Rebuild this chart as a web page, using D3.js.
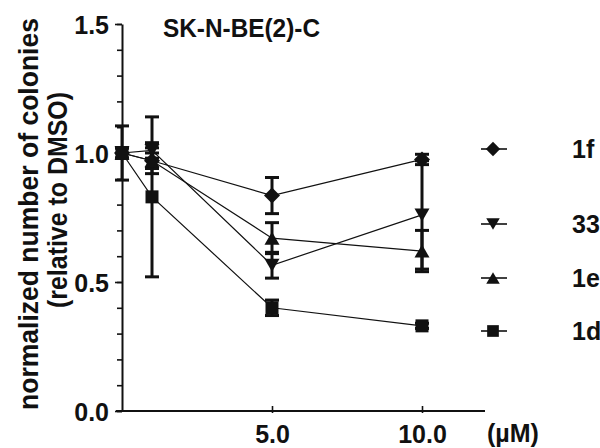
<!DOCTYPE html>
<html>
<head>
<meta charset="utf-8">
<script src="https://cdn.jsdelivr.net/npm/d3@7"></script>
<style>
  html, body { margin: 0; padding: 0; background: #fff; }
  svg { display: block; }
  text { font-family: "Liberation Sans", Arial, sans-serif; font-weight: bold; fill: #111; }
</style>
</head>
<body>
<svg id="chart" width="600" height="448"></svg>
<script>
// ---- data ----
const concentrations = [0, 1, 5, 10];
const seriesNames = ["1f", "33", "1e", "1d"];
const values1f = [1.00, 0.97, 0.835, 0.975];
const errors1f = [0.02, 0.03, 0.07, 0.02];
const values33 = [1.00, 1.01, 0.565, 0.76];
const errors33 = [0.02, 0.03, 0.05, 0.21];
const values1e = [1.00, 0.97, 0.67, 0.62];
const errors1e = [0.02, 0.05, 0.06, 0.08];
const values1d = [1.00, 0.83, 0.40, 0.33];
const errors1d = [0.105, 0.31, 0.03, 0.01];
const yTickLabels = ["0.0", "0.5", "1.0", "1.5"];
const xTickLabels = ["5.0", "10.0"];
const titleText = "SK-N-BE(2)-C";
const yTitle1 = "normalized number of colonies";
const yTitle2 = "(relative to DMSO)";
const unitText = "(µM)";

const series = [
  { name: seriesNames[0], values: values1f, errors: errors1f, shape: "diamond" },
  { name: seriesNames[1], values: values33, errors: errors33, shape: "tridown" },
  { name: seriesNames[2], values: values1e, errors: errors1e, shape: "triup" },
  { name: seriesNames[3], values: values1d, errors: errors1d, shape: "square" }
];

// ---- layout ----
const svg = d3.select("#chart");
const x = d3.scaleLinear().domain([0, 12.1]).range([122, 485]);
const y = d3.scaleLinear().domain([0, 1.5]).range([411, 24]);

function shapePath(shape) {
  if (shape === "diamond") { const r = 8; return `M0,${-r}L${r},0L0,${r}L${-r},0Z`; }
  if (shape === "square") { const r = 6.5; return `M${-r},${-r}H${r}V${r}H${-r}Z`; }
  if (shape === "triup") { const w = 7.5, h = 6.5; return `M0,${-h}L${w},${h}L${-w},${h}Z`; }
  if (shape === "tridown") { const w = 7.5, h = 6.5; return `M0,${h}L${w},${-h}L${-w},${-h}Z`; }
}

// y axis
const yAxisMinor = d3.axisLeft(y).tickValues(d3.range(0, 1.501, 0.1)).tickSize(5).tickFormat("");
const gyMinor = svg.append("g").attr("transform", `translate(${x(0)},0)`).call(yAxisMinor);
gyMinor.select(".domain").remove();
gyMinor.selectAll("line").attr("stroke", "#111").attr("stroke-width", 1.6);

const yAxis = d3.axisLeft(y).tickValues(yTickLabels.map(Number)).tickSize(7).tickSizeOuter(0)
  .tickFormat((d, i) => yTickLabels[i]).tickPadding(6);
const gy = svg.append("g").attr("transform", `translate(${x(0)},0)`).call(yAxis);
gy.select(".domain").attr("stroke", "#111").attr("stroke-width", 2);
gy.selectAll("line").attr("stroke", "#111").attr("stroke-width", 1.6);
gy.selectAll("text").attr("font-size", 25).attr("dy", "0.37em").attr("x", -13)
  .style("font-family", '"Liberation Sans", Arial, sans-serif').style("font-weight", "bold").attr("fill", "#111");

// x axis
const xAxis = d3.axisBottom(x).tickValues(xTickLabels.map(Number)).tickSizeInner(-5).tickSizeOuter(0)
  .tickFormat((d, i) => xTickLabels[i]);
const gx = svg.append("g").attr("transform", `translate(0,${y(0)})`).call(xAxis);
gx.select(".domain").attr("stroke", "#111").attr("stroke-width", 2)
  .attr("d", `M${x(0) - 6},0H${x.range()[1]}`);
gx.selectAll("line").attr("stroke", "#111").attr("stroke-width", 1.6).attr("y2", -5).attr("y1", 2);
gx.selectAll("text").attr("font-size", 25).attr("y", 14).attr("dy", "0.71em")
  .style("font-family", '"Liberation Sans", Arial, sans-serif').style("font-weight", "bold").attr("fill", "#111");

svg.append("text").attr("x", 487).attr("y", 442).attr("font-size", 25).text(unitText);

// title
svg.append("text").attr("x", 163).attr("y", 37).attr("font-size", 25)
  .attr("textLength", 157).attr("lengthAdjust", "spacingAndGlyphs").text(titleText);

// y titles
svg.append("text").attr("transform", "translate(38,214) rotate(-90)").attr("text-anchor", "middle")
  .attr("font-size", 27).attr("textLength", 392).attr("lengthAdjust", "spacingAndGlyphs").text(yTitle1);
svg.append("text").attr("transform", "translate(67,200) rotate(-90)").attr("text-anchor", "middle")
  .attr("font-size", 27).attr("textLength", 216).attr("lengthAdjust", "spacingAndGlyphs").text(yTitle2);

// lines
const line = d3.line().x((d, i) => x(concentrations[i])).y(d => y(d));
const plot = svg.append("g");
series.forEach(s => {
  plot.append("path").attr("d", line(s.values)).attr("fill", "none")
    .attr("stroke", "#111").attr("stroke-width", 1.2);
});

// error bars
series.forEach(s => {
  const g = plot.append("g");
  s.values.forEach((v, i) => {
    const cx = x(concentrations[i]);
    const top = y(v + s.errors[i]), bot = y(v - s.errors[i]);
    g.append("line").attr("x1", cx).attr("x2", cx).attr("y1", top).attr("y2", bot)
      .attr("stroke", "#111").attr("stroke-width", 3);
    [top, bot].forEach(yy => g.append("line").attr("x1", cx - 7).attr("x2", cx + 7)
      .attr("y1", yy).attr("y2", yy).attr("stroke", "#111").attr("stroke-width", 3));
  });
});

// markers
series.forEach(s => {
  plot.selectAll(null).data(s.values).enter().append("path")
    .attr("d", shapePath(s.shape))
    .attr("transform", (d, i) => `translate(${x(concentrations[i])},${y(d)})`)
    .attr("fill", "#111");
});

// legend
const legendY = [149, 224, 278, 331];
const legend = svg.append("g");
series.forEach((s, i) => {
  const g = legend.append("g").attr("transform", `translate(493,${legendY[i]})`);
  g.append("line").attr("x1", -12).attr("x2", 14).attr("stroke", "#111").attr("stroke-width", 1.6);
  g.append("path").attr("d", shapePath(s.shape)).attr("fill", "#111").attr("transform", "scale(0.9)");
  g.append("text").attr("x", 79).attr("y", 9).attr("font-size", 25).text(s.name);
});
</script>
</body>
</html>
